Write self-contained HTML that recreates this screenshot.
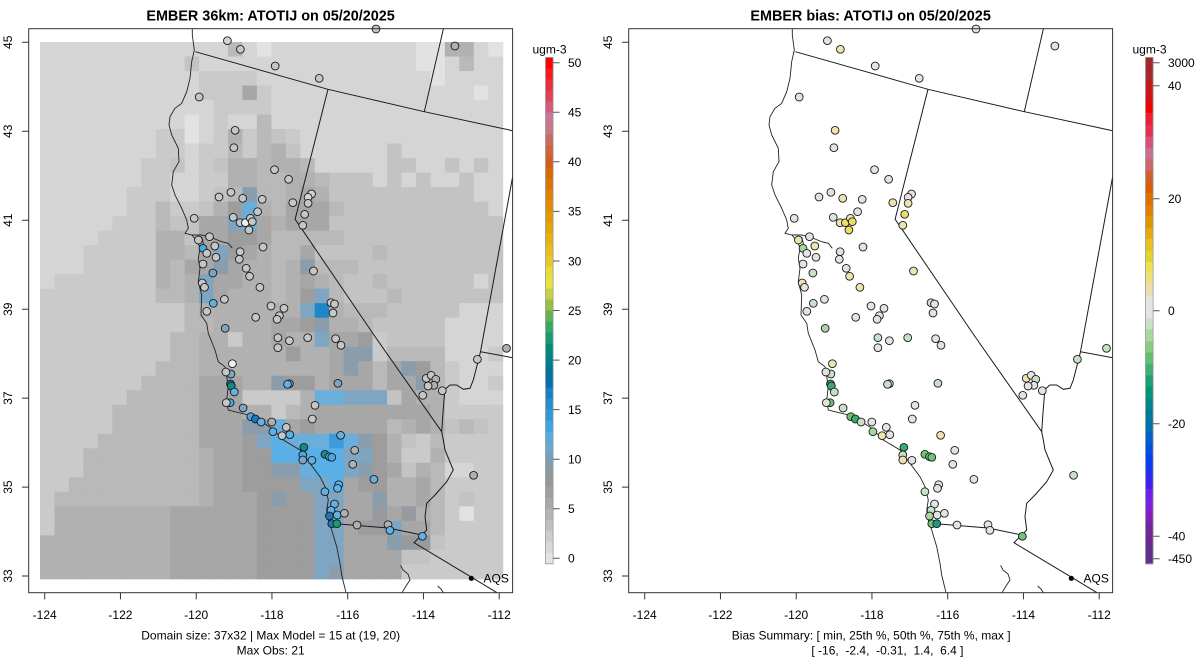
<!DOCTYPE html>
<html>
<head>
<meta charset="utf-8">
<style>
html,body{margin:0;padding:0;background:#fff;}
body{width:1200px;height:672px;overflow:hidden;}
svg{display:block;font-family:"Liberation Sans",Arial,sans-serif;}
text{fill:#000;}
</style>
</head>
<body>
<svg width="1200" height="672" viewBox="0 0 1200 672">
<rect x="0" y="0" width="1200" height="672" fill="#fff"/>
<g id="m"></g>

<!-- LEFT PANEL -->
<text x="270.6" y="20.3" font-size="14.4" font-weight="bold" text-anchor="middle">EMBER 36km: ATOTIJ on 05/20/2025</text>
<rect x="28.7" y="28.7" width="483.9" height="564" fill="none" stroke="#333" stroke-width="1"/>
<path d="M44.7,592.7v6.7M120.45,592.7v6.7M196.2,592.7v6.7M271.95,592.7v6.7M347.7,592.7v6.7M423.45,592.7v6.7M499.2,592.7v6.7M28.7,42.3h-6.7M28.7,131.3h-6.7M28.7,220.2h-6.7M28.7,309.2h-6.7M28.7,398.1h-6.7M28.7,487.1h-6.7M28.7,576h-6.7" stroke="#333" stroke-width="1" fill="none"/>
<g font-size="12" text-anchor="middle">
<text x="44.7" y="619">-124</text><text x="120.45" y="619">-122</text><text x="196.2" y="619">-120</text><text x="271.95" y="619">-118</text><text x="347.7" y="619">-116</text><text x="423.45" y="619">-114</text><text x="499.2" y="619">-112</text>
<text transform="translate(11.8,42.3) rotate(-90)">45</text>
<text transform="translate(11.8,131.3) rotate(-90)">43</text>
<text transform="translate(11.8,220.2) rotate(-90)">41</text>
<text transform="translate(11.8,309.2) rotate(-90)">39</text>
<text transform="translate(11.8,398.1) rotate(-90)">37</text>
<text transform="translate(11.8,487.1) rotate(-90)">35</text>
<text transform="translate(11.8,576) rotate(-90)">33</text>
<text x="270.7" y="639.6">Domain size: 37x32 | Max Model = 15 at (19, 20)</text>
<text x="270.7" y="654.6">Max Obs: 21</text>
<text x="549.5" y="53.5">ugm-3</text>
</g>
<text x="483.5" y="582.7" font-size="12">AQS</text>
<rect x="545.5" y="57.4" width="7.6" height="506.4" fill="none" stroke="#999" stroke-width="0.8"/>
<path d="M553.1,558.3h6.5M553.1,508.7h6.5M553.1,459.2h6.5M553.1,409.6h6.5M553.1,360.1h6.5M553.1,310.5h6.5M553.1,261h6.5M553.1,211.4h6.5M553.1,161.8h6.5M553.1,112.3h6.5M553.1,62.7h6.5" stroke="#555" stroke-width="1"/>
<g font-size="12">
<text x="568" y="562.6">0</text><text x="568" y="513">5</text><text x="568" y="463.5">10</text><text x="568" y="413.9">15</text><text x="568" y="364.4">20</text><text x="568" y="314.8">25</text><text x="568" y="265.3">30</text><text x="568" y="215.7">35</text><text x="568" y="166.1">40</text><text x="568" y="116.6">45</text><text x="568" y="67">50</text>
</g>

<!-- RIGHT PANEL -->
<text x="870.6" y="20.3" font-size="14.4" font-weight="bold" text-anchor="middle">EMBER bias: ATOTIJ on 05/20/2025</text>
<rect x="628.7" y="28.7" width="483.9" height="564" fill="none" stroke="#333" stroke-width="1"/>
<path d="M644.7,592.7v6.7M720.45,592.7v6.7M796.2,592.7v6.7M871.95,592.7v6.7M947.7,592.7v6.7M1023.45,592.7v6.7M1099.2,592.7v6.7M628.7,42.3h-6.7M628.7,131.3h-6.7M628.7,220.2h-6.7M628.7,309.2h-6.7M628.7,398.1h-6.7M628.7,487.1h-6.7M628.7,576h-6.7" stroke="#333" stroke-width="1" fill="none"/>
<g font-size="12" text-anchor="middle">
<text x="644.7" y="619">-124</text><text x="720.45" y="619">-122</text><text x="796.2" y="619">-120</text><text x="871.95" y="619">-118</text><text x="947.7" y="619">-116</text><text x="1023.45" y="619">-114</text><text x="1099.2" y="619">-112</text>
<text transform="translate(611.8,42.3) rotate(-90)">45</text>
<text transform="translate(611.8,131.3) rotate(-90)">43</text>
<text transform="translate(611.8,220.2) rotate(-90)">41</text>
<text transform="translate(611.8,309.2) rotate(-90)">39</text>
<text transform="translate(611.8,398.1) rotate(-90)">37</text>
<text transform="translate(611.8,487.1) rotate(-90)">35</text>
<text transform="translate(611.8,576) rotate(-90)">33</text>
<text x="871.2" y="639.6">Bias Summary: [ min, 25th %, 50th %, 75th %, max ]</text>
<text x="1149.5" y="53.5">ugm-3</text>
</g>
<text x="811.4" y="654.6" font-size="12" style="white-space:pre">[ -16,  -2.4,  -0.31,  1.4,  6.4 ]</text>
<text x="1083.5" y="582.7" font-size="12">AQS</text>
<rect x="1145.5" y="57.4" width="7.6" height="506.4" fill="none" stroke="#999" stroke-width="0.8"/>
<path d="M1153.1,62.7h6.5M1153.1,85.7h6.5M1153.1,198.7h6.5M1153.1,310.7h6.5M1153.1,423.7h6.5M1153.1,536.3h6.5M1153.1,558.7h6.5" stroke="#555" stroke-width="1"/>
<g font-size="12">
<text x="1168" y="67">3000</text><text x="1168" y="90">40</text><text x="1168" y="203">20</text><text x="1168" y="315">0</text><text x="1168" y="428">-20</text><text x="1168" y="540.6">-40</text><text x="1168" y="563">-450</text>
</g>
</svg>

<script>
(function(){
var G=[
"11111111111114101111111111005510",
"11111111113111111111111111001411",
"11111111111222211111111111101111",
"11111111111222621111111111111101",
"11111111111122221111111111111111",
"11111111110121141111111111111111",
"11111111220125243211111111111111",
"11111111221224245311111131111111",
"11111112231235545541111133113131",
"11111112211225544554333131311311",
"11111122211234944565333333333311",
"11111122422357b54666433333333331",
"1111122243366ab65666333333333333",
"11112222553667764444433333333333",
"111222225546a7654463333433333333",
"11122222546696554594443333333333",
"12222222545a66554565433433333313",
"22222222445a6555457a433343333333",
"222222222245555555ae544433333111",
"22222222224455556679554333331111",
"2222222224455255655a667233331111",
"22222222244555555755699244441112",
"22222222444555555555696469742111",
"22222224444666559775666466942112",
"2222224444466622225bbaaa36552111",
"22222444444666552456666666652222",
"2222244444466699b676666645653432",
"222244444446667acbbbdb9753242222",
"2224444444456677cccccaa752252222",
"222444444445667799bcca9763541122",
"224444444445667777aac67755642222",
"2444444444456667977aa66955642322",
"2555555556666667777aa66868542022",
"2555555556666667777aa677a6642222",
"5555555556666667777aa66698832222",
"5555555556666667777aa66663322222",
"5555555556666667777a966662222222"];
var C={'0':'#e2e2e2','1':'#d5d5d5','2':'#cacaca','3':'#c3c3c3','4':'#b9b9b9','5':'#b1b1b1','6':'#a7a7a7','7':'#9d9d9d','8':'#979b9f','9':'#8a9dac','a':'#7ea5c2','b':'#6aaedb','c':'#5ab0e6','d':'#3a9cdc','e':'#1c88c8'};
var s='';
for(var r=0;r<37;r++){var row=G[r]||'';for(var c=0;c<32;c++){var k=row.charAt(c)||'4';s+='<rect x="'+(40+c*14.46).toFixed(2)+'" y="'+(42+r*14.51).toFixed(2)+'" width="14.96" height="15.01" fill="'+(C[k]||'#b9b9b9')+'"/>';}}

var lines='<path d="M192.3,28.7L192.3,35L194.3,50L191.7,61.7L190,78.3L186.7,91.7L181.7,103.3L175,108.3L170,116.7L169,125L171.7,135L178.3,148.3L179,161.7L173.3,171.7L171.7,185L175,195L181.7,208.3L186.7,220L188.3,228.3L185,233.3L191.7,235L197.7,241.7L200,248.3L198.3,258.3L200,268.3L198.3,281.7L201.7,295L201,315L206.7,323.3L208.3,333.3L215,350L218.3,361.7L225,366.7L226.7,376.7L228.3,386.7L226.7,400L228.3,410L235,411.7L248.3,415L261.7,421.7L271.7,428.3L283.3,440L300,450L310,463.3L320,476.7L325,486.7L328.3,500L326.7,510L328.3,520L331.7,530L336.7,546.7L340,563.3L341.7,575L346,592.7M191.7,235L201.7,235L208.3,236.7L215,239L221.7,241.7L228.3,243.3L232.3,248.3M201.7,237L204,246L208,252M400.6,565.3L403,570L408,574L410,580L406,586L402,592.7M437.7,586L441,589L443.4,592.7" fill="none" stroke="#222" stroke-width="0.9"/>'+
'<path d="M195.3,51.7L328,89.3L424.3,111.7L512.6,130.7M443.4,28.7L424.3,111.7M328,89.3L295.1,219.3L302,229.3L374.6,336L441.7,431.7M512.6,177L480.5,351.7L512.6,357.7M480.5,351.7L476.7,366.7L473.3,380L470,388.3L463.3,389.3L456.7,385L450,385L445,389.3L444,400L442.7,416.7L441.7,431.7L443.3,440L445,450L453.3,470L446.7,481.7L435,495L426.7,503.3L425,516.7L426.7,530L421.7,535L414,542.7L473.3,578.3L497,592.7M333,523.5L388,528L422,535" fill="none" stroke="#1a1a1a" stroke-width="1"/>'+
'<circle cx="471.3" cy="578.3" r="2.6" fill="#000"/>';

var S=[[376,29,'g','e'],[227.4,40.7,'l','e'],[240.4,49.3,'g','y'],[275.2,66,'g','e'],[319.2,78.3,'g','e'],[454.9,46,'G','e'],[199.2,97,'g','e'],[235.1,130.3,'g','y'],[233.9,147.7,'g','e'],[274.5,169.7,'g','e'],[288.6,179.3,'g','e'],[219,197,'g','e'],[230.9,192.3,'g','e'],[242.7,198.3,'g','y'],[262.2,199.3,'g','e'],[311.5,194,'l','e'],[308.1,197.3,'l','e'],[308.1,203.3,'g','y'],[292.8,202.7,'g','y'],[257.6,211.7,'g','e'],[304.7,214.3,'g','Y'],[302.8,225.3,'g','y'],[233.2,217.3,'g','e'],[240.1,222.7,'g','y'],[245.4,222.7,'w','Y'],[250.4,218.3,'g','y'],[252.3,221.7,'g','Y'],[248.9,230,'g','Y'],[194.2,218.3,'g','e'],[198.4,240,'g','y'],[209.5,236.7,'g','e'],[203,248.3,'B','q'],[214.8,246,'g','y'],[206.8,253.3,'g','e'],[216,257.3,'g','e'],[203,264,'g','e'],[240.1,251.7,'g','e'],[239.3,259.3,'g','e'],[263,247,'g','e'],[212.9,273,'s','p'],[246.2,268.3,'g','e'],[249.6,276.3,'g','y'],[259.9,287.3,'g','y'],[202.2,283,'g','y'],[204.5,287.3,'g','e'],[313.5,271,'g','y'],[224.4,299.3,'g','e'],[213.3,303.3,'b','p'],[206.8,311.3,'g','e'],[255.7,317.3,'g','e'],[271,306,'g','e'],[284,308.3,'g','e'],[279.4,315.7,'g','e'],[277.1,319.3,'g','e'],[331,302.7,'g','p'],[334.5,304,'g','e'],[333,313,'g','e'],[225.2,328.3,'s','q'],[277.9,337.7,'g','p'],[289.4,340.7,'g','e'],[277.9,347.7,'g','e'],[307.7,337.7,'g','p'],[335.6,338.7,'g','e'],[341,345.3,'g','e'],[506.5,348.3,'G','p'],[477.4,359.3,'g','p'],[232.4,363.7,'w','y'],[230.9,374,'s','p'],[225.9,372,'g','e'],[230.5,384,'D','M'],[231.3,386,'T','M'],[234.3,392,'b','p'],[289.4,383.7,'b','p'],[287.5,384.3,'b','p'],[337.9,383.3,'s','p'],[426.2,378.3,'g','y'],[431.2,375.3,'g','e'],[435.8,379.3,'G','p'],[433.9,385.3,'G','e'],[428.1,386,'g','e'],[422.8,395.3,'g','e'],[442.3,390.7,'g','e'],[230.1,402.7,'B','m'],[226.3,402.7,'g','e'],[243.1,408,'s','p'],[315,405.3,'g','e'],[312.3,419,'g','e'],[250.8,416.7,'B','m'],[255.4,419,'D','M'],[261.1,422,'b','p'],[271.8,422,'G','e'],[286.3,427.3,'g','e'],[272.9,431.7,'b','q'],[282.1,435.7,'g','y'],[289.8,434.7,'b','e'],[340.6,435.3,'b','y'],[303.9,447.3,'T','M'],[302.8,455,'B','p'],[302.8,460,'s','y'],[311.9,460.3,'b','e'],[324.9,454.3,'T','m'],[329.5,456.7,'B','m'],[331.8,457.3,'B','m'],[354.7,450.3,'G','e'],[352.8,464.3,'G','e'],[373.9,479.3,'b','e'],[338.7,484.7,'b','e'],[337.5,488.3,'b','e'],[324.9,491.7,'b','p'],[473.6,475.3,'G','p'],[334.5,504,'b','e'],[331,510.3,'b','p'],[329.5,516,'D','q'],[337.2,515,'b','e'],[344.4,513.3,'G','e'],[331.8,523.7,'D','m'],[336.8,523.7,'N','T'],[357,525,'G','e'],[388,524.7,'G','e'],[389.9,530.3,'b','e'],[422.4,536.3,'b','m']];
var LC={g:'#c6c6c6',G:'#b0b0b0',w:'#efefef',l:'#d4d4d4',B:'#4aa8e8',b:'#62b0e6',s:'#7ca6c4',D:'#1878b8',T:'#148a88',N:'#10a070'};
var RC={e:'#e3e3e3',y:'#ebe4b0',Y:'#ebdf62',p:'#c8e0c8',q:'#a8d6a0',m:'#70c478',M:'#38aa72',T:'#1a9a80'};
function circ(idx,map){var o='';for(var i=0;i<S.length;i++){var p=S[i];o+='<circle cx="'+p[0]+'" cy="'+p[1]+'" r="3.9" fill="'+(map[p[idx]]||'#ccc')+'" stroke="#1a1a1a" stroke-width="0.9"/>';}return o;}

var LB=['#fe0000','#f31a22','#ea2e3e','#e2405a','#d8587e','#cc7498','#c87a84','#cc6c5c','#d0623c','#d45c1c','#d86800','#dc7400','#e08000','#e28c00','#e49800','#e6a404','#e8b010','#e8bc1c','#e8c828','#eada38','#e8e240','#c8d040','#98c040','#60b450','#38a860','#1a9a70','#008c78','#00808a','#00749c','#0070b0','#1880c4','#2490d0','#3098d8','#40a4e0','#56ace0','#6aa8cc','#7c9eb4','#8c9aa4','#969898','#9e9e9e','#a8a8a8','#b4b4b4','#c0c0c0','#cccccc','#d8d8d8','#e4e4e4'];
var cb='';var h=506.4/LB.length;
for(var i=0;i<LB.length;i++){cb+='<rect x="545.5" y="'+(57.4+i*h).toFixed(2)+'" width="7.6" height="'+(h+0.4).toFixed(2)+'" fill="'+LB[i]+'"/>';}
var RB=[[57.4,'#a02828'],[71.9,'#a82828'],[80.4,'#c01c1c'],[90.7,'#d81010'],[102.6,'#f40000'],[112.8,'#f02030'],[124.7,'#e83050'],[136.7,'#d85080'],[147.9,'#c87090'],[158.9,'#d06868'],[170.8,'#d06030'],[182.7,'#d86000'],[193,'#e07000'],[204.9,'#e08000'],[216.2,'#e09400'],[227.8,'#e8a810'],[239,'#e8c020'],[250.9,'#e8d030'],[261.8,'#eee050'],[273,'#ece080'],[284.3,'#e8e0b0'],[295.9,'#e4e4e4'],[318.4,'#c8e0c8'],[329.3,'#a8d8a0'],[341.2,'#88cc80'],[352.5,'#60c070'],[364.1,'#40b070'],[375.3,'#20a070'],[386.6,'#009878'],[398.2,'#008888'],[409.4,'#007898'],[420.7,'#0070b0'],[432.3,'#0060c8'],[443.5,'#0050e0'],[454.8,'#0040f0'],[466.4,'#2030f0'],[477.6,'#4020f0'],[488.9,'#7020e8'],[500.5,'#8020d8'],[511.7,'#8020b8'],[523,'#702898'],[534.6,'#6c2890'],[545.8,'#603090'],[563.8,'']];
for(var j=0;j<RB.length-1;j++){cb+='<rect x="1145.5" y="'+RB[j][0]+'" width="7.6" height="'+(RB[j+1][0]-RB[j][0]+0.4).toFixed(2)+'" fill="'+RB[j][1]+'"/>';}

var out='<g>'+s+'</g>'+lines+circ(2,LC)+'<g transform="translate(600,0)">'+lines+circ(3,RC)+'</g>'+cb;
document.getElementById('m').innerHTML=out;
})();
</script>
</body>
</html>
